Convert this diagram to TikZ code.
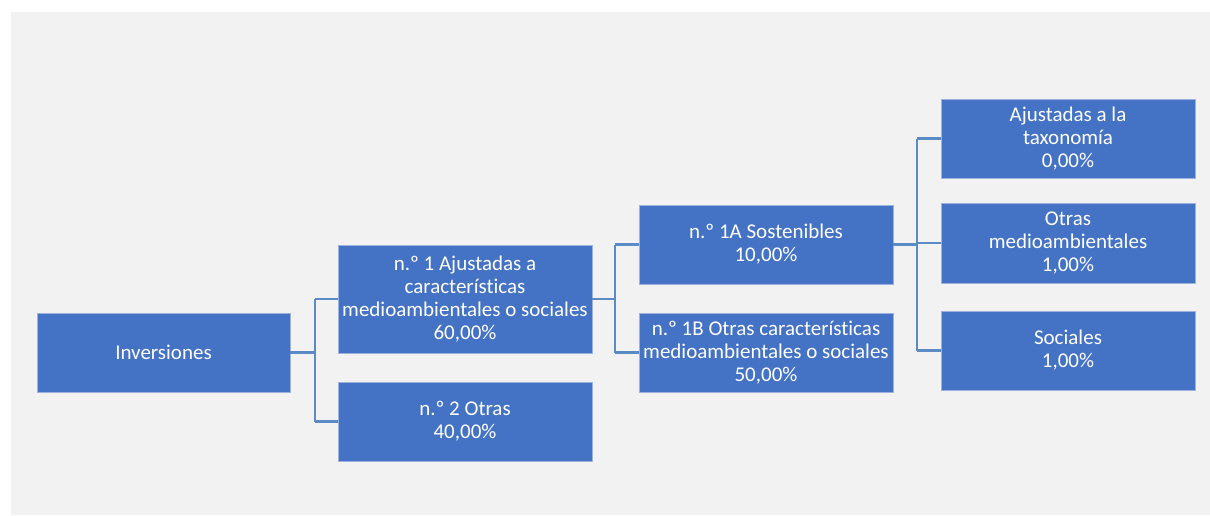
\documentclass[tikz,border=0pt]{standalone}
\usepackage{fontspec}
\setmainfont[Ligatures=NoCommon]{Carlito}
\definecolor{bgc}{HTML}{F2F2F2}
\definecolor{boxc}{HTML}{4472C4}
\definecolor{boxedge}{HTML}{9DB3DE}
\definecolor{linec}{HTML}{5A8BC5}
\begin{document}
\begin{tikzpicture}[x=1pt,y=-1pt,
  box/.style={rectangle, fill=boxc, draw=boxedge, line width=0.6pt, text=white,
    align=center, inner sep=0pt, font=\fontsize{21}{23}\selectfont},
  conn/.style={draw=linec, line width=2.2pt}]
\useasboundingbox (0,0) rectangle (1210,515);
\fill[bgc] (11,12) rectangle (1210,515);
% nodes (center, width, height)
\node[box, minimum width=253pt, minimum height=79pt] (inv) at (163.5,352.5) {Inversiones};
\node[box, minimum width=254pt, minimum height=108pt] (n1) at (465,299) {n.º 1 Ajustadas a\\características\\medioambientales o sociales\\60,00\%};
\node[box, minimum width=254pt, minimum height=79pt] (n2) at (465,421.5) {n.º 2 Otras\\40,00\%};
\node[box, minimum width=254pt, minimum height=79pt] (n1a) at (766,244.5) {n.º 1A Sostenibles\\10,00\%};
\node[box, minimum width=254pt, minimum height=79pt] (n1b) at (766,352.5) {n.º 1B Otras características\\medioambientales o sociales\\50,00\%};
\node[box, minimum width=254pt, minimum height=79pt] (tax) at (1068,138.5) {Ajustadas a la\\taxonomía\\0,00\%};
\node[box, minimum width=254pt, minimum height=80pt] (oma) at (1068,243) {Otras\\medioambientales\\1,00\%};
\node[box, minimum width=254pt, minimum height=79pt] (soc) at (1068,350.5) {Sociales\\1,00\%};
% connectors
\coordinate (j1) at (315,0);
\coordinate (j2) at (615,0);
\coordinate (j3) at (917,0);
\draw[conn] (inv.east) -- (inv.east -| j1);
\draw[conn] (n1.west -| j1) -- (n2.west -| j1);
\draw[conn] (n1.west -| j1) -- (n1.west);
\draw[conn] (n2.west -| j1) -- (n2.west);
\draw[conn] (n1.east) -- (n1.east -| j2);
\draw[conn] (n1a.west -| j2) -- (n1b.west -| j2);
\draw[conn] (n1a.west -| j2) -- (n1a.west);
\draw[conn] (n1b.west -| j2) -- (n1b.west);
\draw[conn] (n1a.east) -- (n1a.east -| j3);
\draw[conn] (tax.west -| j3) -- (soc.west -| j3);
\draw[conn] (tax.west -| j3) -- (tax.west);
\draw[conn] (oma.west -| j3) -- (oma.west);
\draw[conn] (soc.west -| j3) -- (soc.west);
\end{tikzpicture}
\end{document}
